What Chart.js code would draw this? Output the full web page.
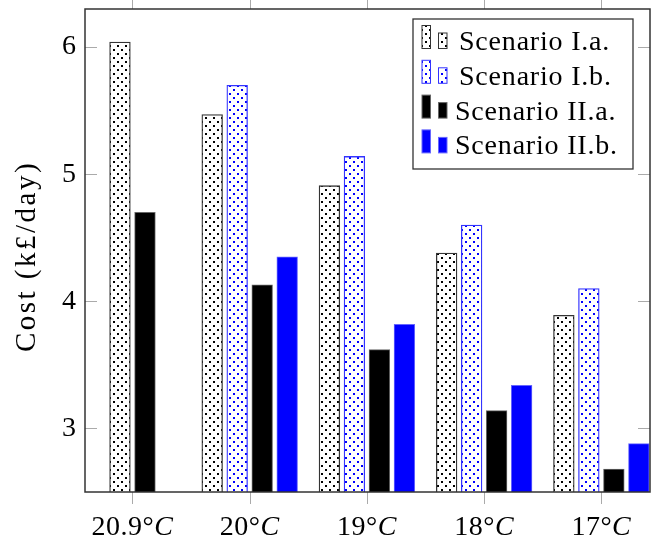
<!DOCTYPE html>
<html>
<head>
<meta charset="utf-8">
<script src="https://cdn.jsdelivr.net/npm/chart.js@4"></script>
<style>
  html, body { margin: 0; padding: 0; background: #fff; }
  #wrap { width: 657px; height: 538px; }
</style>
</head>
<body>
<div id="wrap"><canvas id="costChart"></canvas></div>
<script>
const categories = ['20.9°C', '20°C', '19°C', '18°C', '17°C'];
const scenarioIa = [6.04, 5.47, 4.91, 4.38, 3.89];
const scenarioIb = [null, 5.70, 5.14, 4.60, 4.10];
const scenarioIIa = [4.70, 4.13, 3.62, 3.14, 2.68];
const scenarioIIb = [null, 4.35, 3.82, 3.34, 2.88];
const yTicks = [3, 4, 5, 6];
const yTitle = 'Cost (k£/day)';

const serif = '"Liberation Serif", "Times New Roman", serif';
const canvas = document.getElementById('costChart');
const ctx = canvas.getContext('2d');

// crosshatch dots fill like pgfplots
function dots(color) {
  const tile = document.createElement('canvas');
  tile.width = 8;
  tile.height = 8;
  const t = tile.getContext('2d');
  t.fillStyle = '#fff';
  t.fillRect(0, 0, 8, 8);
  t.fillStyle = color;
  t.fillRect(1, 1, 2, 2);
  t.fillRect(5, 5, 2, 2);
  return ctx.createPattern(tile, 'repeat');
}

const toPoints = (values) => values.map((v, i) => ({ x: i, y: v }));

const framePlugin = {
  id: 'frame',
  afterDatasetsDraw(chart) {
    const { ctx, chartArea: area, scales: { x, y } } = chart;
    ctx.save();

    // tick marks
    ctx.strokeStyle = '#aaa';
    ctx.lineWidth = 1;
    ctx.beginPath();
    categories.forEach((c, i) => {
      const px = Math.round(x.getPixelForValue(i)) + 0.5;
      ctx.moveTo(px, area.bottom);
      ctx.lineTo(px, area.bottom + 12);
      ctx.moveTo(px, area.top);
      ctx.lineTo(px, area.top - 12);
    });
    yTicks.forEach((v) => {
      const py = Math.round(y.getPixelForValue(v)) + 0.5;
      ctx.moveTo(area.left, py);
      ctx.lineTo(area.left + 12, py);
      ctx.moveTo(area.right, py);
      ctx.lineTo(area.right - 12, py);
    });
    ctx.stroke();

    // axis box
    ctx.strokeStyle = '#333';
    ctx.lineWidth = 1.5;
    ctx.strokeRect(area.left, area.top, area.right - area.left, area.bottom - area.top);

    // x labels with italic C
    ctx.fillStyle = '#000';
    ctx.textBaseline = 'alphabetic';
    ctx.textAlign = 'left';
    ctx.letterSpacing = '0.5px';
    categories.forEach((label, i) => {
      const px = x.getPixelForValue(i);
      const head = label.slice(0, -1);
      const tail = label.slice(-1);
      ctx.font = '28px ' + serif;
      const w1 = ctx.measureText(head).width;
      ctx.font = 'italic 28px ' + serif;
      const w2 = ctx.measureText(tail).width;
      const sx = px - (w1 + w2) / 2;
      ctx.font = '28px ' + serif;
      ctx.fillText(head, sx, 535);
      ctx.font = 'italic 28px ' + serif;
      ctx.fillText(tail, sx + w1, 535);
    });

    // y title, CM is wider than Liberation so spread it a little
    ctx.save();
    ctx.translate(27, (area.top + area.bottom) / 2 + 6);
    ctx.rotate(-Math.PI / 2);
    ctx.font = '29px ' + serif;
    ctx.letterSpacing = '2.5px';
    ctx.textAlign = 'center';
    ctx.textBaseline = 'middle';
    ctx.fillText(yTitle, 0, 0);
    ctx.restore();

    // legend
    const lx = 413, ly = 19, lw = 220, lh = 150;
    ctx.fillStyle = '#fff';
    ctx.fillRect(lx, ly, lw, lh);
    ctx.strokeStyle = '#333';
    ctx.lineWidth = 1.3;
    ctx.strokeRect(lx, ly, lw, lh);
    ctx.font = '28px ' + serif;
    ctx.letterSpacing = '0.8px';
    chart.data.datasets.forEach((ds, i) => {
      const bottom = 48.5 + i * 34.8;
      ctx.fillStyle = ds.backgroundColor;
      ctx.strokeStyle = ds.borderColor;
      ctx.lineWidth = 1;
      ctx.fillRect(422, bottom - 23, 8.5, 23);
      ctx.strokeRect(422, bottom - 23, 8.5, 23);
      ctx.fillRect(438.5, bottom - 15.5, 8.5, 15.5);
      ctx.strokeRect(438.5, bottom - 15.5, 8.5, 15.5);
      ctx.fillStyle = '#000';
      ctx.fillText(ds.label, i < 2 ? 459 : 455, bottom + 1.5);
    });

    ctx.restore();
  }
};

new Chart(ctx, {
  type: 'bar',
  data: {
    datasets: [
      {
        label: 'Scenario I.a.',
        data: toPoints(scenarioIa),
        backgroundColor: dots('#000'),
        borderColor: '#333',
        borderWidth: 1.3,
      },
      {
        label: 'Scenario I.b.',
        data: toPoints(scenarioIb),
        backgroundColor: dots('#0000ff'),
        borderColor: '#3333ff',
        borderWidth: 1.3,
      },
      {
        label: 'Scenario II.a.',
        data: toPoints(scenarioIIa),
        backgroundColor: '#000',
        borderColor: '#666',
        borderWidth: 1,
      },
      {
        label: 'Scenario II.b.',
        data: toPoints(scenarioIIb),
        backgroundColor: '#0000ff',
        borderColor: '#6666ff',
        borderWidth: 1,
      },
    ],
  },
  options: {
    responsive: true,
    maintainAspectRatio: false,
    animation: false,
    layout: { padding: { top: 9, right: 7 } },
    datasets: {
      bar: {
        skipNull: true,
        barThickness: 25,
        maxBarThickness: 20.7,
      },
    },
    plugins: {
      legend: { display: false },
      tooltip: { enabled: false },
    },
    scales: {
      x: {
        type: 'linear',
        offset: false,
        min: -0.405,
        max: 4.415,
        grid: { display: false, drawTicks: false, offset: false },
        border: { display: false },
        ticks: { display: false },
        afterBuildTicks: (s) => { s.ticks = categories.map((c, i) => ({ value: i })); },
        afterFit: (s) => { s.height = 46; s.paddingLeft = 0; s.paddingRight = 0; },
      },
      y: {
        min: 2.5,
        max: 6.3,
        grid: { display: false, drawTicks: false },
        border: { display: false },
        afterBuildTicks: (s) => { s.ticks = yTicks.map((v) => ({ value: v })); },
        ticks: {
          font: { family: serif, size: 28 },
          color: '#000',
          padding: 9,
        },
        afterFit: (s) => { s.width = 85; s.paddingTop = 0; s.paddingBottom = 0; },
      },
    },
  },
  plugins: [framePlugin],
});
</script>
</body>
</html>
